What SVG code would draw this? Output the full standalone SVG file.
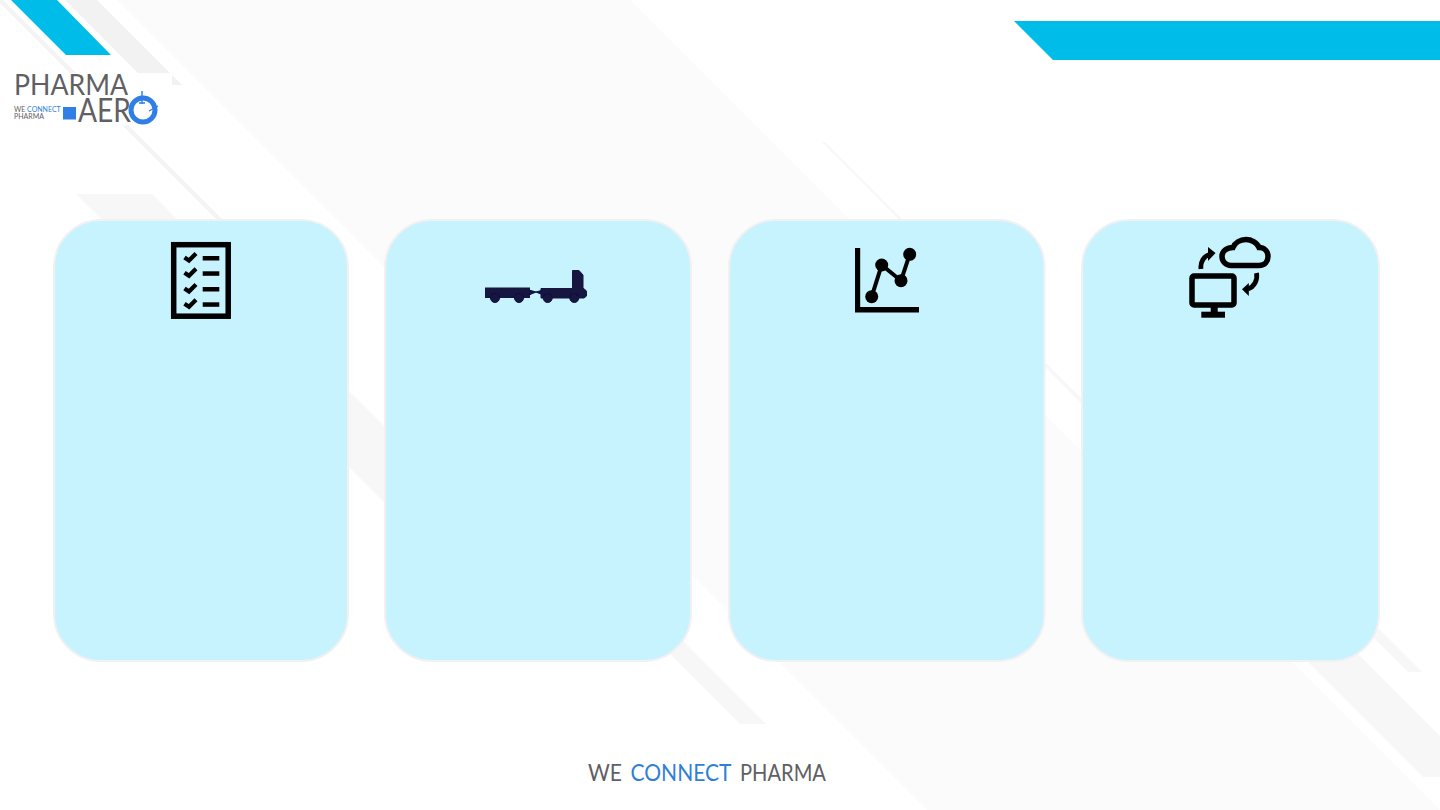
<svg xmlns="http://www.w3.org/2000/svg" width="1440" height="810" viewBox="0 0 1440 810">
<defs>
<style>
.card{fill:#c7f3ff;stroke:#f1f1f1;stroke-width:2}
.band{fill:#fbfbfb}
.stripe{fill:#f7f7f7}
.accent{fill:#00bce8}
.ic{fill:#000}
.ln{fill:none;stroke:#000}
.grey{fill:#5f6063}
.blue{fill:#2f7fd8}
text{font-family:"Lato","Liberation Sans",sans-serif}
</style>
<filter id="soft" x="-10%" y="-10%" width="120%" height="120%"><feGaussianBlur stdDeviation="0.7"/></filter>
</defs>
<rect width="1440" height="810" fill="#ffffff"/>
<g id="background">
<polygon class="band" points="117,0 630,0 1440,810 927,810"/>
<polygon points="65,0 97,0 182,85 150,85" fill="#f2f2f2"/>
<polygon points="0,3 0,-3 280,277 280,283" fill="#f4f4f4"/>
<polygon class="stripe" points="76,194 152,194 620,662 544,662"/>
<polygon class="stripe" points="450,434 476,434 766,724 740,724"/>
<polygon points="822,142 825,142 1203,520 1197,520" fill="#f7f7f7"/>
<polygon class="stripe" points="1200,554 1258,554 1440,736 1440,777 1423,777"/>
<polygon class="stripe" points="1300,564 1314,564 1422,672 1408,672"/>
<polygon class="accent" points="11,0 57,0 111,55 66,55"/>
<polygon class="accent" points="1014,21 1440,21 1440,60 1053,60"/>
</g>
<g id="logo">
<rect x="14" y="73" width="158" height="52" fill="#ffffff"/>
<text class="grey" x="14" y="95" font-size="28" textLength="114" lengthAdjust="spacingAndGlyphs">PHARMA</text>
<text class="grey" x="78" y="122" font-size="32" textLength="53" lengthAdjust="spacingAndGlyphs">AER</text>
<text x="14" y="112" font-size="7" class="grey">WE <tspan class="blue">CONNECT</tspan></text>
<text class="grey" x="14" y="119" font-size="7">PHARMA</text>
<rect x="63" y="107" width="13" height="12.500" fill="#2f7fe6"/>
<circle cx="143" cy="110" r="12" fill="none" stroke="#2f7fe6" stroke-width="5"/>
<path d="M142 91V104M136 99L142 96L148 99M139 103H145M149 111L158 106M153 103L156 112" fill="none" stroke="#2f7fe6" stroke-width="1.400"/>
</g>
<g id="card-1">
<rect class="card" x="54" y="220" width="294" height="441" rx="47"/>
<rect x="173.700" y="244.700" width="54.500" height="71.500" fill="none" stroke="#000" stroke-width="5.500"/>
<g class="ln" stroke-width="4.200">
<path d="M184.500 257.500L189 260.500L196 253.500"/>
<path d="M184.500 272.800L189 275.800L196 268.800"/>
<path d="M184.500 288.500L189 291.500L196 284.500"/>
<path d="M184.500 303.800L189 306.800L196 299.800"/>
</g>
<rect class="ic" x="202.700" y="256" width="16.600" height="4.500"/>
<rect class="ic" x="202.700" y="271.300" width="16.600" height="4.500"/>
<rect class="ic" x="202.700" y="287" width="16.600" height="4.500"/>
<rect class="ic" x="202.700" y="302.300" width="16.600" height="4.500"/>
</g>
<g id="card-2">
<rect class="card" x="385" y="220" width="306" height="441" rx="47"/>
<g fill="#12123f" stroke="#12123f" stroke-width="1" filter="url(#soft)">
<rect x="485.500" y="288" width="44" height="9.500"/>
<circle cx="495" cy="298" r="4.500"/>
<circle cx="519" cy="298" r="4.500"/>
<path d="M529 290L536 292L529 295ZM543 290L536 292L543 295Z"/>
<path d="M541 288.500H572.500V270.500H579L583 275V288L586.500 291V296L584 298H541Z"/>
<circle cx="547.700" cy="298" r="4.500"/>
<circle cx="574.300" cy="298" r="4.500"/>
</g>
</g>
<g id="card-3">
<rect class="card" x="729" y="220" width="315.500" height="441" rx="47"/>
<path class="ic" d="M855 248H860.200V307H919V312.500H855Z"/>
<path class="ln" stroke-width="4" d="M871.700 296.700L881.700 265L901 280.700L909.700 254.300"/>
<circle class="ic" cx="871.700" cy="296.700" r="6.500"/>
<circle class="ic" cx="881.700" cy="265" r="6.500"/>
<circle class="ic" cx="901" cy="280.700" r="6.500"/>
<circle class="ic" cx="909.700" cy="254.300" r="6.500"/>
</g>
<g id="card-4">
<rect class="card" x="1082" y="220" width="297" height="441" rx="47"/>
<rect x="1192" y="276" width="42" height="29" rx="2" fill="none" stroke="#000" stroke-width="5.500"/>
<rect class="ic" x="1210.700" y="307" width="7" height="5"/>
<rect class="ic" x="1201.300" y="311.700" width="23.700" height="6"/>
<path class="ln" stroke-width="5.500" d="M1231 265.500H1259C1265 265.500 1268 261 1268 256.500C1268 251 1264 247.500 1259 247.500C1257 242.500 1251 239.500 1246 239.500C1240 239.500 1235 243 1233 247.500C1227 247.500 1222 251 1222 256.500C1222 261.500 1226 265.500 1231 265.500Z"/>
<path class="ln" stroke-width="4.800" d="M1201 269C1200 262 1204 256 1209.500 254.500"/>
<polygon class="ic" points="1215.500,253 1208,247 1208,261"/>
<path class="ln" stroke-width="4.800" d="M1256.500 273C1258 280 1254 287 1248 289"/>
<polygon class="ic" points="1242,289.300 1248.800,283 1248.800,296"/>
</g>
<g id="footer">
<text class="grey" x="588" y="781" font-size="23" textLength="34" lengthAdjust="spacingAndGlyphs">WE</text>
<text class="blue" x="630.500" y="781" font-size="23" textLength="101" lengthAdjust="spacingAndGlyphs">CONNECT</text>
<text class="grey" x="740" y="781" font-size="23" textLength="86" lengthAdjust="spacingAndGlyphs">PHARMA</text>
</g>
</svg>
